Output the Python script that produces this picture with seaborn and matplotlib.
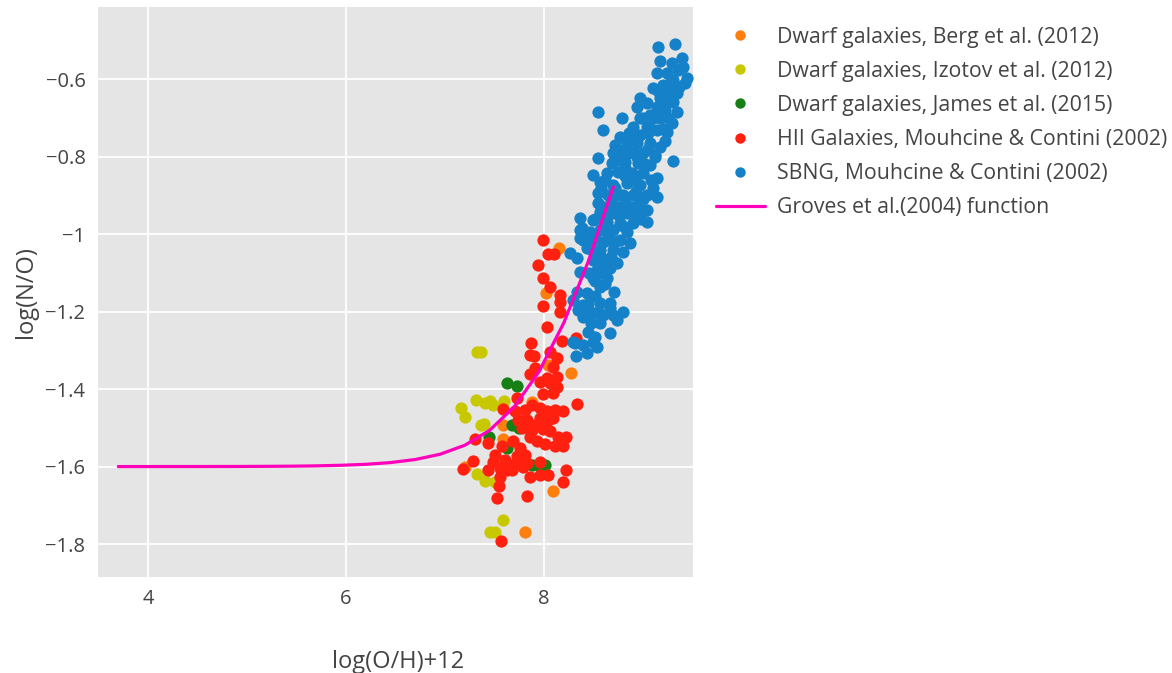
import numpy as np
import pandas as pd
import matplotlib
matplotlib.use("Agg")
import matplotlib.pyplot as plt
from matplotlib.lines import Line2D
import seaborn as sns

# ---------------- data ----------------
berg_x = [8.15, 8.02, 8.04, 8.27, 7.88, 7.59, 7.59, 7.20, 8.09, 7.81]
berg_y = [-1.036, -1.152, -1.337, -1.358, -1.433, -1.492, -1.528, -1.600, -1.662, -1.770]

izotov_x = [7.32, 7.36, 7.16, 7.20, 7.31, 7.40, 7.45, 7.48, 7.60, 7.36, 7.39, 7.32, 7.40, 7.50, 7.59, 7.45, 7.50]
izotov_y = [-1.304, -1.304, -1.448, -1.471, -1.427, -1.435, -1.432, -1.44, -1.43, -1.494, -1.489,
            -1.618, -1.636, -1.639, -1.739, -1.768, -1.768]

james_x = [7.63, 7.73, 7.68, 7.83, 7.44, 7.63, 7.88, 7.94, 8.01, 7.75]
james_y = [-1.384, -1.391, -1.494, -1.49, -1.523, -1.551, -1.595, -1.597, -1.597, -1.50]

hii_x = [7.99, 8.04, 8.10, 7.94, 7.99, 8.06, 8.16, 8.16, 7.99, 8.16, 8.03, 7.87, 8.18, 8.32,
         8.06, 7.86, 7.90, 8.13, 7.91, 8.09, 7.86, 8.03, 8.13, 7.96, 8.06, 8.13, 7.99, 8.09,
         8.33, 7.73, 7.88, 7.59, 7.71, 7.81, 7.96, 8.03, 8.11, 8.19, 7.96, 8.04, 7.74, 7.83,
         7.78, 7.91, 7.99, 8.06, 8.14, 8.22, 7.69, 7.86, 7.93, 8.01, 8.11, 8.19, 7.30, 7.43,
         7.58, 7.51, 7.76, 7.73, 7.81, 7.48, 7.61, 7.69, 7.79, 7.96, 7.28, 7.18, 7.43, 7.56,
         7.63, 7.86, 7.96, 8.04, 8.22, 7.56, 7.55, 8.19, 7.53, 7.83, 7.57, 7.83, 7.76, 7.68,
         8.09, 7.88]
hii_y = [-1.015, -1.051, -1.051, -1.079, -1.113, -1.136, -1.157, -1.175, -1.185, -1.200,
         -1.239, -1.280, -1.275, -1.268, -1.304, -1.311, -1.314, -1.319, -1.345, -1.342,
         -1.360, -1.371, -1.368, -1.381, -1.384, -1.394, -1.412, -1.409, -1.438, -1.422,
         -1.440, -1.451, -1.456, -1.453, -1.448, -1.456, -1.453, -1.456, -1.474, -1.479,
         -1.479, -1.479, -1.500, -1.492, -1.502, -1.507, -1.523, -1.523, -1.533, -1.523,
         -1.533, -1.543, -1.546, -1.548, -1.528, -1.538, -1.546, -1.569, -1.551, -1.574,
         -1.569, -1.587, -1.582, -1.595, -1.600, -1.587, -1.585, -1.605, -1.608, -1.603,
         -1.610, -1.626, -1.621, -1.623, -1.608, -1.628, -1.649, -1.641, -1.680, -1.677,
         -1.793, -1.590, -1.577, -1.608, -1.474, -1.505]

sbng_x = [9.15, 9.32, 9.17, 9.39, 9.29, 9.14, 9.24, 9.35, 9.44, 9.42, 9.30, 9.20, 9.10, 9.25,
          9.34, 9.17, 9.29, 8.97, 9.04, 8.94, 9.14, 9.22, 9.34, 8.55, 8.79, 9.07, 8.97, 9.17,
          9.29, 8.60, 8.90, 9.04, 9.14, 9.24, 8.97, 8.77, 8.84, 8.72, 8.94, 9.07, 9.17, 8.80,
          8.90, 9.00, 9.12, 8.55, 9.30, 8.69, 8.82, 8.95, 9.07, 8.49, 8.64, 8.75, 8.89, 9.00,
          9.14, 8.57, 8.70, 8.84, 8.97, 9.10, 8.55, 8.65, 8.77, 8.90, 9.04, 9.14, 8.55, 8.69,
          8.82, 8.95, 9.04, 8.57, 8.70, 8.84, 8.97, 8.36, 8.49, 8.64, 8.77, 8.90, 9.04, 8.36,
          8.46, 8.57, 8.70, 8.84, 8.39, 8.49, 8.64, 8.77, 8.87, 8.43, 8.57, 8.70, 8.80, 8.26,
          8.33, 8.49, 8.64, 8.74, 8.36, 8.54, 8.67, 8.49, 8.64, 8.57, 8.43, 8.33, 8.29, 8.39,
          8.57, 8.67, 8.80, 8.39, 8.49, 8.60, 8.74, 8.57, 8.44, 8.67, 8.29, 8.49, 8.39, 8.52,
          8.31, 8.54, 8.32, 8.43, 8.36, 8.38, 8.34, 8.67, 8.43,
          8.62, 8.72, 8.82, 8.92, 9.02, 9.12, 8.60, 8.74, 8.88, 9.00, 8.66, 8.80, 8.52, 8.56,
          8.68, 9.05, 9.20, 9.27, 9.10, 8.85, 8.75, 8.92, 9.00, 9.25, 9.22, 8.60, 8.45, 8.52,
          8.47, 8.62, 8.71,
          8.58, 8.68, 8.80, 8.93, 8.62, 8.76, 8.90, 8.52, 8.64, 8.72, 8.48, 8.58, 8.52, 8.60,
          8.44, 8.55, 8.70, 8.94, 9.05, 9.08, 8.98, 9.15, 9.30, 9.36, 9.20, 9.08, 8.86, 8.70,
          8.82, 9.40]
sbng_y = [-0.518, -0.510, -0.554, -0.546, -0.559, -0.585, -0.585, -0.577, -0.597, -0.610,
          -0.603, -0.615, -0.623, -0.634, -0.636, -0.649, -0.649, -0.649, -0.662, -0.672,
          -0.672, -0.680, -0.685, -0.685, -0.701, -0.693, -0.701, -0.701, -0.713, -0.731,
          -0.724, -0.724, -0.731, -0.737, -0.744, -0.749, -0.762, -0.770, -0.765, -0.765,
          -0.775, -0.783, -0.788, -0.791, -0.796, -0.804, -0.811, -0.816, -0.814, -0.816,
          -0.822, -0.847, -0.842, -0.840, -0.842, -0.842, -0.855, -0.865, -0.873, -0.868,
          -0.873, -0.881, -0.894, -0.899, -0.899, -0.899, -0.899, -0.904, -0.920, -0.920,
          -0.920, -0.925, -0.938, -0.943, -0.945, -0.945, -0.951, -0.958, -0.963, -0.969,
          -0.971, -0.971, -0.969, -0.989, -0.994, -0.989, -0.989, -0.994, -1.015, -1.015,
          -1.015, -1.015, -1.023, -1.036, -1.041, -1.041, -1.046, -1.048, -1.061, -1.066,
          -1.066, -1.074, -1.097, -1.092, -1.087, -1.113, -1.113, -1.136, -1.152, -1.149,
          -1.170, -1.182, -1.177, -1.177, -1.201, -1.213, -1.203, -1.208, -1.221, -1.229,
          -1.252, -1.255, -1.278, -1.278, -1.286, -1.265, -1.280, -1.291, -1.314, -1.306,
          -1.010, -0.984, -1.195, -1.190, -1.203,
          -0.86, -0.88, -0.85, -0.86, -0.82, -0.80, -0.95, -0.93, -0.93, -0.91, -1.00, -0.98,
          -1.00, -1.08, -1.06, -0.74, -0.66, -0.61, -0.70, -0.79, -0.81, -0.75, -0.70, -0.70,
          -0.76, -1.02, -1.10, -1.16, -1.23, -1.13, -1.15,
          -0.88, -0.90, -0.90, -0.89, -0.93, -0.95, -0.95, -0.96, -0.98, -1.02, -1.04, -1.06,
          -1.12, -1.10, -1.18, -1.20, -1.21, -0.80, -0.78, -0.86, -0.96, -0.63, -0.66, -0.62,
          -0.73, -0.73, -0.74, -0.79, -0.83, -0.57]

groves_x = [3.7, 3.95, 4.2, 4.45, 4.7, 4.95, 5.2, 5.45, 5.7, 5.95, 6.2, 6.45, 6.7, 6.95,
            7.2, 7.45, 7.7, 7.95, 8.2, 8.45, 8.7]
groves_y = [-1.6000, -1.6000, -1.5999, -1.5999, -1.5998, -1.5997, -1.5994, -1.5990, -1.5982,
            -1.5967, -1.5942, -1.5897, -1.5818, -1.5682, -1.5450, -1.5066, -1.4457, -1.3548,
            -1.2291, -1.0687, -0.8785]

series_names = ["Dwarf galaxies, Berg et al. (2012)",
                "Dwarf galaxies, Izotov et al. (2012)",
                "Dwarf galaxies, James et al. (2015)",
                "HII Galaxies, Mouhcine & Contini (2002)",
                "SBNG, Mouhcine & Contini (2002)"]
line_name = "Groves et al.(2004) function"
colors = ["#ff7f0e", "#c8c800", "#168016", "#ff2010", "#1581c8"]
line_color = "#ff00bb"

frames = []
for name, xs, ys in zip(series_names,
                        [berg_x, izotov_x, james_x, hii_x, sbng_x],
                        [berg_y, izotov_y, james_y, hii_y, sbng_y]):
    frames.append(pd.DataFrame({"OH": xs, "NO": ys, "series": name}))
df = pd.concat(frames, ignore_index=True)
df_line = pd.DataFrame({"OH": groves_x, "NO": groves_y})

# ---------------- figure ----------------
sns.set_style("whitegrid")
plt.rcParams["font.family"] = ["Open Sans", "DejaVu Sans"]

fig = plt.figure(figsize=(11.72, 6.73), dpi=100)
ax = fig.add_axes([98 / 1172, 1 - 577 / 673, (693 - 98) / 1172, (577 - 7) / 673])
ax.set_facecolor("#e5e5e5")

palette = dict(zip(series_names, colors))
for name in series_names:
    sub = df[df["series"] == name]
    sns.scatterplot(data=sub, x="OH", y="NO", color=palette[name], s=78,
                    linewidth=0, ax=ax, legend=False, zorder=3)
sns.lineplot(data=df_line, x="OH", y="NO", color=line_color, linewidth=2.3,
             ax=ax, legend=False, zorder=4)

ax.set_xlim(3.495, 9.505)
ax.set_ylim(-1.885, -0.414)
ax.set_xticks([4, 6, 8])
ax.set_yticks([-1.8, -1.6, -1.4, -1.2, -1.0, -0.8, -0.6])
ax.set_yticklabels(["\u22121.8", "\u22121.6", "\u22121.4", "\u22121.2", "\u22121", "\u22120.8", "\u22120.6"])
ax.grid(True, color="white", linewidth=1.3)
ax.set_axisbelow(True)
for sp in ax.spines.values():
    sp.set_visible(False)
ax.tick_params(axis="both", length=0, labelsize=14.5, colors="#444444", pad=9)

ax.set_xlabel("log(O/H)+12", fontsize=17, color="#444444")
ax.set_ylabel("log(N/O)", fontsize=17, color="#444444")
ax.xaxis.set_label_coords((398 - 98) / (693 - 98), -(650 - 577) / (577 - 7))
ax.yaxis.set_label_coords(-(98 - 38) / (693 - 98), 0.5)

handles = [Line2D([0], [0], marker="o", linestyle="none", markersize=7.5,
                  markerfacecolor=c, markeredgewidth=0) for c in colors]
handles.append(Line2D([0], [0], color=line_color, linewidth=2.3))
leg = fig.legend(handles, series_names + [line_name], loc="upper left",
                 bbox_to_anchor=(707 / 1172, 1 - 18 / 673), frameon=False,
                 fontsize=15.3, labelspacing=0.62, handlelength=2.35, handletextpad=0.55,
                 borderaxespad=0)
for t in leg.get_texts():
    t.set_color("#444444")

fig.savefig("out.png", dpi=100)
